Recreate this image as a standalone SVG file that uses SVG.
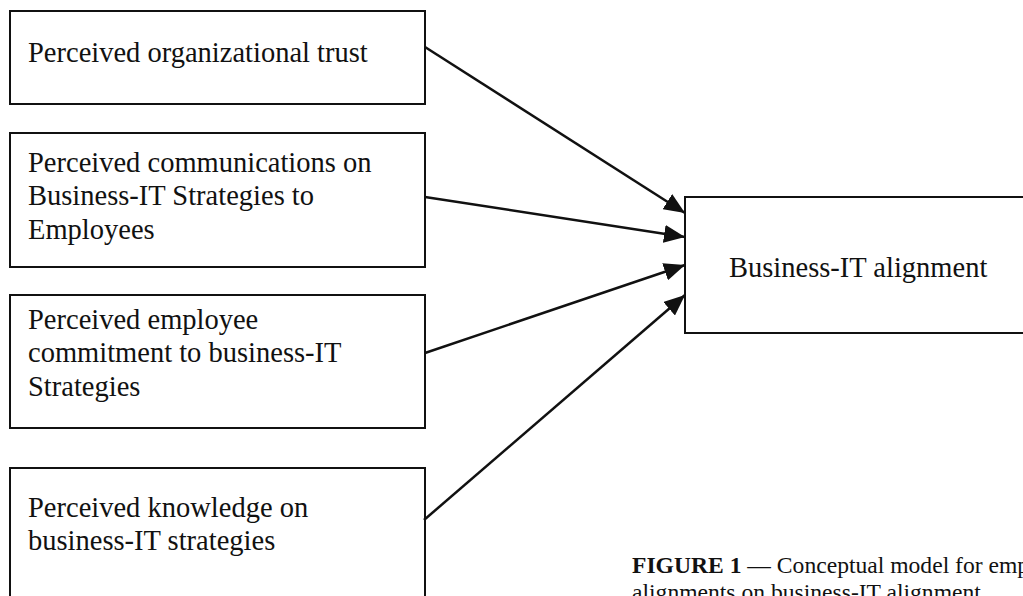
<svg xmlns="http://www.w3.org/2000/svg" width="1023" height="596" viewBox="0 0 1023 596">
  <style>
    .box { fill: #ffffff; stroke: #111111; stroke-width: 2; }
    .lbl { font-family: "Liberation Serif", "Times New Roman", serif; font-size: 28.5px; fill: #111111; }
    .edge { stroke: #111111; stroke-width: 2.5; fill: none; }
    .cap { font-family: "Liberation Serif", "Times New Roman", serif; font-size: 23.6px; fill: #111111; }
  </style>
  <defs>
    <marker id="arrow" markerUnits="userSpaceOnUse" markerWidth="22" markerHeight="18" refX="21" refY="9" orient="auto" viewBox="0 0 22 18">
      <path d="M0,0 L21,9 L0,18 Z" fill="#111111"/>
    </marker>
  </defs>
  <rect width="1023" height="596" fill="#ffffff"/>

  <g id="node-trust">
    <rect class="box" x="10" y="11" width="415" height="93"/>
    <text class="lbl" x="28" y="62">Perceived organizational trust</text>
  </g>

  <g id="node-communications">
    <rect class="box" x="10" y="133" width="415" height="134"/>
    <text class="lbl" x="28" y="172">Perceived communications on</text>
    <text class="lbl" x="28" y="205">Business-IT Strategies to</text>
    <text class="lbl" x="28" y="239">Employees</text>
  </g>

  <g id="node-commitment">
    <rect class="box" x="10" y="295" width="415" height="133"/>
    <text class="lbl" x="28" y="329">Perceived employee</text>
    <text class="lbl" x="28" y="362">commitment to business-IT</text>
    <text class="lbl" x="28" y="396">Strategies</text>
  </g>

  <g id="node-knowledge">
    <rect class="box" x="10" y="468" width="415" height="145"/>
    <text class="lbl" x="28" y="517">Perceived knowledge on</text>
    <text class="lbl" x="28" y="550">business-IT strategies</text>
  </g>

  <g id="node-alignment">
    <rect class="box" x="685" y="197" width="360" height="136"/>
    <text class="lbl" x="729" y="277">Business-IT alignment</text>
  </g>

  <g id="connectors">
    <line class="edge" x1="425" y1="47" x2="685" y2="213" marker-end="url(#arrow)"/>
    <line class="edge" x1="425" y1="197" x2="685" y2="237" marker-end="url(#arrow)"/>
    <line class="edge" x1="425" y1="353" x2="685" y2="265" marker-end="url(#arrow)"/>
    <line class="edge" x1="424" y1="520" x2="685" y2="295" marker-end="url(#arrow)"/>
  </g>

  <g id="caption">
    <text class="cap" x="632" y="573"><tspan font-weight="bold">FIGURE 1</tspan> — Conceptual model for emp</text>
    <text class="cap" x="632" y="600">alignments on business-IT alignment</text>
  </g>
</svg>
